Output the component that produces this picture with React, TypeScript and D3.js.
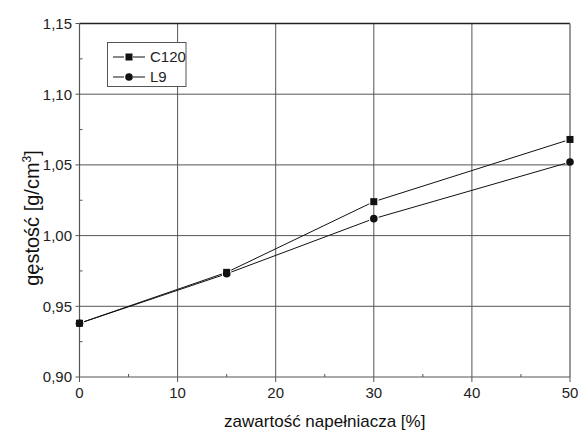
import React from 'react';
import * as d3 from 'd3';

// filler content [%] and density [g/cm3]
const fillerPct = [0, 15, 30, 50];
const densC120 = [0.938, 0.974, 1.024, 1.068];
const densL9 = [0.938, 0.973, 1.012, 1.052];
const xTicks = [0, 10, 20, 30, 40, 50];
const xMinor = [5, 15, 25, 35, 45];
const yTicks = [0.9, 0.95, 1.0, 1.05, 1.1, 1.15];
const yMinor = [0.925, 0.975, 1.025, 1.075, 1.125];

const W = 578, H = 432;
const left = 79.5, right = 570, top = 23.5, bottom = 377;
const font = 'Arial, "Liberation Sans", sans-serif';
const gridCol = '#555';

const x = d3.scaleLinear().domain([0, 50]).range([left, right]);
const y = d3.scaleLinear().domain([0.9, 1.15]).range([bottom, top]);
const fmtY = (v: number) => d3.format('.2f')(v).replace('.', ',');

// segments between markers, trimmed so they don't touch the symbols
function segments(vals: number[], gap: number) {
  const out: { x1: number; y1: number; x2: number; y2: number }[] = [];
  for (let i = 0; i < vals.length - 1; i++) {
    const ax = x(fillerPct[i]), ay = y(vals[i]);
    const bx = x(fillerPct[i + 1]), by = y(vals[i + 1]);
    const len = Math.hypot(bx - ax, by - ay);
    const ux = (bx - ax) / len, uy = (by - ay) / len;
    out.push({ x1: ax + ux * gap, y1: ay + uy * gap, x2: bx - ux * gap, y2: by - uy * gap });
  }
  return out;
}

export default function App() {
  const legX = 107.5, legY = 42.5, legW = 78.5, legH = 44;
  return (
    <svg width={W} height={H} style={{ position: 'absolute', left: 0, top: 0, background: '#fff' }}>
      <rect width={W} height={H} fill="#fff" />
      {/* grid */}
      {xTicks.slice(1, -1).map(t => (
        <line key={'gx' + t} x1={x(t)} x2={x(t)} y1={top} y2={bottom} stroke={gridCol} strokeWidth={1} />
      ))}
      {yTicks.slice(1, -1).map(t => (
        <line key={'gy' + t} x1={left} x2={right} y1={y(t)} y2={y(t)} stroke={gridCol} strokeWidth={1} />
      ))}
      {/* frame */}
      <line x1={left} x2={right} y1={top} y2={top} stroke="#222" strokeWidth={1.5} />
      <line x1={right} x2={right} y1={top} y2={bottom} stroke="#777" strokeWidth={1.5} />
      <line x1={left} x2={left} y1={top} y2={bottom} stroke={gridCol} strokeWidth={1.2} />
      <line x1={left} x2={right} y1={bottom} y2={bottom} stroke={gridCol} strokeWidth={1.2} />
      {/* x ticks */}
      {xTicks.map(t => (
        <g key={'xt' + t}>
          <line x1={x(t)} x2={x(t)} y1={bottom} y2={bottom + 5} stroke={gridCol} />
          <text x={x(t)} y={398} textAnchor="middle" fontFamily={font} fontSize={15} fill="#222">{t}</text>
        </g>
      ))}
      {xMinor.map(t => (
        <line key={'xm' + t} x1={x(t)} x2={x(t)} y1={bottom} y2={bottom - 3} stroke={gridCol} />
      ))}
      {/* y ticks */}
      {yTicks.map(t => (
        <g key={'yt' + t}>
          <line x1={left - 4} x2={left} y1={y(t)} y2={y(t)} stroke={gridCol} />
          <text x={72} y={y(t)} dy="0.36em" textAnchor="end" fontFamily={font} fontSize={15} fill="#222">{fmtY(t)}</text>
        </g>
      ))}
      {yMinor.map(t => (
        <line key={'ym' + t} x1={left} x2={left + 3} y1={y(t)} y2={y(t)} stroke={gridCol} />
      ))}
      {/* axis titles */}
      <text x={(left + right) / 2} y={427} textAnchor="middle" fontFamily={font} fontSize={17} fill="#111">
        zawartość napełniacza [%]
      </text>
      <text transform={`translate(39,218) rotate(-90)`} textAnchor="middle" fontFamily={font} fontSize={20} fill="#111">
        gęstość [g/cm<tspan dy="-8" fontSize={12}>3</tspan><tspan dy="8">]</tspan>
      </text>
      {/* L9 series */}
      {segments(densL9, 5).map((s, i) => (
        <line key={'l9s' + i} {...s} stroke="#111" strokeWidth={1} />
      ))}
      {densL9.map((v, i) => (
        <circle key={'l9p' + i} cx={x(fillerPct[i])} cy={y(v)} r={3.8} fill="#111" />
      ))}
      {/* C120 series */}
      {segments(densC120, 5).map((s, i) => (
        <line key={'cs' + i} {...s} stroke="#111" strokeWidth={1} />
      ))}
      {densC120.map((v, i) => (
        <rect key={'cp' + i} x={x(fillerPct[i]) - 3.5} y={y(v) - 3.5} width={7} height={7} fill="#111" />
      ))}
      {/* legend */}
      <rect x={legX} y={legY} width={legW} height={legH} fill="#fff" stroke={gridCol} strokeWidth={1} />
      <line x1={113} x2={124} y1={57} y2={57} stroke="#111" />
      <line x1={133} x2={145} y1={57} y2={57} stroke="#111" />
      <rect x={125.5} y={53.5} width={7} height={7} fill="#111" />
      <text x={150} y={57} dy="0.36em" fontFamily={font} fontSize={15} fill="#222">C120</text>
      <line x1={113} x2={124} y1={77} y2={77} stroke="#111" />
      <line x1={133} x2={145} y1={77} y2={77} stroke="#111" />
      <circle cx={129} cy={77} r={3.8} fill="#111" />
      <text x={150} y={77} dy="0.36em" fontFamily={font} fontSize={15} fill="#222">L9</text>
    </svg>
  );
}
